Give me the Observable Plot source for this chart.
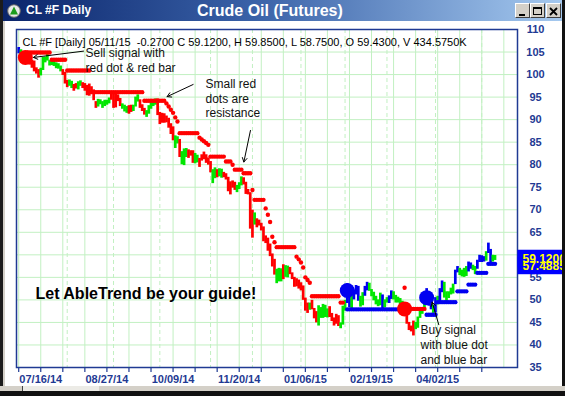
<!DOCTYPE html>
<html><head><meta charset="utf-8">
<script src="https://cdn.jsdelivr.net/npm/d3@7"></script>
<script src="https://cdn.jsdelivr.net/npm/@observablehq/plot@0.6"></script>
<style>
body{margin:0;background:#fff;}
#win{position:relative;width:565px;height:396px;overflow:hidden;background:#fff;font-family:"Liberation Sans",Arial,sans-serif;}
#title{position:absolute;left:0;top:0;width:565px;height:21px;background:linear-gradient(to right,#0a246a 0%,#3a62a8 45%,#a6caf0 100%);}
#icon{position:absolute;left:7px;top:4px;}
#tleft{position:absolute;left:26px;top:0;line-height:21px;color:#fff;font-weight:bold;font-size:12px;}
#tmain{position:absolute;left:197px;top:0;line-height:22px;color:#fff;font-weight:bold;font-size:16px;}
.btn{position:absolute;top:3px;width:13px;height:13px;background:#d4d0c8;border-top:1px solid #fff;border-left:1px solid #fff;border-right:1px solid #404040;border-bottom:1px solid #404040;}
#chart{position:absolute;left:0;top:21px;}
#lstrip{position:absolute;left:0;top:0;width:3px;height:396px;background:#1c1c1c;}
#lstrip2{position:absolute;left:3px;top:21px;width:2px;height:375px;background:#d4d0c8;}
#rstrip{position:absolute;left:562px;top:0;width:3px;height:396px;background:#111;}
#bstrip{position:absolute;left:0;top:386px;width:565px;height:5px;background:#d4d0c8;}
#thumb{position:absolute;left:22px;top:386px;width:76px;height:5px;background:#ecebe6;border-left:1px solid #444;}
#bblack{position:absolute;left:0;top:391px;width:565px;height:5px;background:#111;}
</style></head><body>
<div id="win">
  <div id="chart"></div>
  <div id="title">
    <svg id="icon" width="14" height="14"><circle cx="7" cy="7" r="6.3" fill="#e9e9e9" stroke="#666"/><path d="M7 2.6 L11 10.6 L3 10.6 Z" fill="#1c9c1c"/></svg>
    <div id="tleft">CL #F Daily</div>
    <div id="tmain">Crude Oil (Futures)</div>
    <div class="btn" style="left:515px"><svg width="13" height="13"><rect x="3" y="9" width="6" height="2" fill="#000"/></svg></div>
    <div class="btn" style="left:530px"><svg width="13" height="13"><rect x="2.5" y="2.5" width="8" height="7" fill="none" stroke="#000"/><rect x="2" y="2" width="9" height="2" fill="#000"/></svg></div>
    <div class="btn" style="left:546px"><svg width="13" height="13"><path d="M3 3 L10 10 M10 3 L3 10" stroke="#000" stroke-width="1.8"/></svg></div>
  </div>
  <div id="lstrip"></div><div id="lstrip2"></div><div id="rstrip"></div>
  <div id="bstrip"></div><div id="thumb"></div><div id="bblack"></div>
</div>
<script>
// ---- data: one bar per trading day, 07/01/14 (index 0) to 05/11/15 (index 216)
const highs = [
106.0,105.5,104.8,104.1,104.0,103.6,103.2,103.0,101.5,101.1,
101.4,103.8,103.9,105.0,103.1,103.4,103.2,102.6,102.4,101.9,
101.1,100.5,98.7,98.8,98.5,97.8,98.0,98.4,98.6,98.2,
98.0,97.6,97.9,97.3,96.6,94.0,94.5,94.4,94.0,94.3,
94.3,94.8,96.0,96.0,95.9,95.5,94.7,93.5,93.2,92.9,
93.1,93.2,93.2,95.0,95.5,94.4,93.3,92.5,92.0,93.1,
93.9,94.0,94.6,94.6,91.6,91.4,91.3,90.8,90.3,89.1,
88.4,86.4,86.2,85.6,82.9,83.5,83.6,83.3,83.1,83.1,
82.5,82.1,81.4,82.2,82.8,82.2,81.5,80.7,78.9,79.3,
78.9,79.1,79.0,78.3,78.0,77.2,76.2,76.4,76.1,75.4,
76.0,77.3,77.1,76.1,74.5,73.8,69.9,69.3,68.0,67.7,
67.0,66.2,64.2,63.7,62.4,60.2,59.0,56.8,57.0,56.9,
57.8,57.6,57.5,57.2,56.0,55.0,54.7,54.4,53.8,53.1,
50.4,49.3,49.3,49.9,48.1,47.4,48.7,48.3,49.0,48.8,
48.0,48.5,47.0,46.0,46.8,46.5,44.9,48.6,49.9,53.6,
53.2,51.3,52.2,53.2,53.0,50.8,51.6,53.0,53.9,53.7,
52.3,51.7,50.8,50.0,51.5,51.1,50.0,50.5,50.9,52.0,
51.8,51.0,50.6,50.3,49.7,48.4,47.7,45.0,44.2,45.3,
45.0,46.2,47.8,47.8,49.5,52.5,51.8,49.1,48.8,50.5,
50.8,52.5,54.2,53.9,51.8,51.8,52.6,53.5,56.6,57.4,
57.0,56.6,57.0,57.4,58.4,58.2,57.7,57.4,58.8,59.9,
59.8,59.6,60.7,62.6,61.2,59.9,59.85];
const lows = [
104.6,104.0,103.6,103.1,102.8,102.1,101.4,100.6,100.1,99.2,
99.7,100.9,102.6,103.0,101.9,102.0,101.8,101.3,101.2,100.6,
99.8,97.9,97.1,97.4,96.9,96.3,96.8,96.6,97.4,96.9,
96.3,95.3,95.2,95.9,94.2,92.5,92.8,93.3,92.5,92.9,
93.2,93.5,94.3,92.5,92.6,94.0,92.9,92.3,91.7,91.4,
91.2,91.6,91.8,92.8,93.9,92.5,91.8,91.0,90.5,91.2,
92.3,92.9,93.2,90.9,88.9,89.2,89.2,89.3,88.1,86.7,
85.3,83.6,84.6,81.6,80.0,79.8,81.6,81.4,81.9,80.3,
80.2,80.4,79.4,80.8,81.1,80.3,79.9,78.2,75.8,76.9,
77.1,77.3,77.0,77.1,76.6,74.0,73.3,74.8,74.3,73.8,
74.5,75.3,75.5,73.4,73.3,65.7,63.7,66.6,66.0,66.4,
65.3,62.9,62.5,60.8,59.6,57.3,55.5,53.6,54.0,54.0,
54.5,55.0,54.9,55.6,54.5,52.8,52.9,52.4,52.0,49.9,
47.5,47.0,47.7,47.8,45.8,44.9,44.2,45.9,45.9,46.1,
46.0,46.1,45.2,44.2,44.6,44.1,43.6,44.4,47.5,49.2,
48.3,47.9,50.0,51.1,49.7,48.4,48.7,50.8,52.0,51.9,
50.7,49.8,48.9,48.5,48.7,47.9,48.2,49.3,49.2,50.1,
50.0,49.3,49.3,47.8,47.9,46.7,44.6,43.2,42.9,42.0,
43.4,43.7,45.9,46.8,47.6,49.2,48.6,47.8,47.0,47.1,
48.9,49.0,51.6,50.4,49.6,50.3,51.1,51.3,53.4,56.0,
55.4,55.1,55.0,55.2,56.2,56.8,56.5,55.6,56.8,58.3,
58.3,58.4,58.6,60.3,58.3,58.4,58.75];
// bar colour runs: R = down trend, G = neutral, B = up trend
const trendRuns = [["B",1],["G",2],["R",7],["G",10],["R",3],["G",2],["R",2],["G",2],["R",7],["G",6],
["R",5],["G",3],["R",2],["G",3],["R",3],["G",5],["R",8],["G",2],["R",1],["G",3],["R",3],["G",2],
["R",6],["G",2],["R",1],["G",2],["R",6],["G",3],["R",5],["G",1],["R",9],["G",3],["R",1],["G",2],
["R",9],["G",1],["R",3],["G",5],["R",5],["G",3],["B",2],["G",1],["B",3],["G",2],["B",2],["G",6],
["B",1],["G",2],["B",2],["G",5],["R",5],["G",5],["B",3],["G",1],["B",1],["G",1],["B",2],["G",5],
["B",2],["G",4],["B",2],["G",2],["B",4],["G",1],["B",2],["G",2]];
// small red resistance dots: [first bar, last bar, level]
const resistanceRuns = [[4,14,104.9],[15,21,103.3],[22,32,100.9],[33,56,96.1],[57,66,94.2],[67,67,93.6],
[68,68,92.9],[69,69,92.2],[70,70,91.5],[71,71,90.5],[72,72,89.6],[73,81,87.0],[82,82,86.0],[83,83,85.6],
[84,84,85.2],[85,85,84.8],[86,86,84.4],[87,93,81.8],[94,96,80.7],[97,97,80.0],[98,101,78.9],[102,105,78.1],
[106,106,74.4],[107,111,72.2],[112,112,70.3],[113,113,68.9],[114,114,67.3],[115,115,64.0],[116,116,62.8],
[117,125,61.7],[126,126,59.6],[127,127,59.0],[128,128,58.3],[129,129,57.2],[130,130,55.0],[131,131,54.4],
[132,132,53.8],[133,145,50.8],[146,147,49.4],[175,175,52.7],[176,184,48.0]];
// small blue support dots
const supportRuns = [[149,174,47.9],[185,189,46.7],[190,198,49.5],[199,203,51.9],[204,207,53.4],[208,212,56.0],[213,216,58.0]];
// big signal dots
const signalIdx = [3,149,175,185];
const signalVal = [103.8,52.1,48.0,50.5];
const signalType = ["R","B","R","B"];
// axes (the 60 label sits under the price tags, so it is not printed)
const xTickIdx = [0,10,20,30,40,50,60,70,80,90,100,110,120,130,140,150,160,170,180,190,200,210];
const xGridIdx = [0,10,20,30,40,50,60,70,80,90,100,110,120,130,140,150,160,170,180,190,200,210,220];
const monthStartIdx = [22,43,64,87,106,128,148,167,189,210];
const xLabelIdx = [10,40,70,100,130,160,190];
const xLabels = ["07/16/14","08/27/14","10/09/14","11/20/14","01/06/15","02/19/15","04/02/15"];
const yTicks = [35,40,45,50,55,65,70,75,80,85,90,95,100,105,110];
const yGrid = [40,45,50,55,60,65,70,75,80,85,90,95,100,105];
const priceTagLabels = ["59.1200","57.4885"];
const priceTagValues = [59.12,57.4885];
const headerText = "CL #F [Daily] 05/11/15  -0.2700 C 59.1200, H 59.8500, L 58.7500, O 59.4300, V 434.5750K";
const noteTexts = ["Sell signal with","red dot & red bar","Small red","dots are","resistance","Buy signal","with blue dot","and blue bar"];
const noteX = [30.3,30.3,84.7,84.7,84.7,182.2,182.2,182.2];
const noteY = [104.7,101.4,97.8,94.47,91.36,43.2,39.88,36.55];
const guideText = "Let AbleTrend be your guide!";
const guideX = 7.6, guideY = 51.4;
const arrowFrom = [[29.4,105.2],[79.1,97.8],[105.1,87.6],[190.5,44.5]];
const arrowTo = [[6.7,103.8],[67.3,95.1],[102.1,80.6],[187.5,49.5]];

// ---- build tables
const colorOf = {R:"#ff0000", G:"#00e600", B:"#0000f0"};
const trend = trendRuns.flatMap(([t,n]) => Array(n).fill(t));
const bars = highs.map((h,i) => ({i, high:h, low:lows[i], t:trend[i] || "G"}));
const expand = (runs,t) => runs.flatMap(([a,b,v]) => d3.range(a,b+1).map(i => ({i, v, t})));
const stops = [...expand(resistanceRuns,"R"), ...expand(supportRuns,"B")];
const signals = signalIdx.map((i,k) => ({i, v:signalVal[k], t:signalType[k]}));
const notes = noteTexts.map((s,k) => ({s, x:noteX[k], y:noteY[k]}));
const arrows = arrowFrom.map((f,k) => ({x1:f[0], y1:f[1], x2:arrowTo[k][0], y2:arrowTo[k][1]}));
const tags = priceTagLabels.map((l,k) => ({l, v:priceTagValues[k]}));

const navy = "#1f3a93";
const grid = "#c2f0c2";
const chart = Plot.plot({
  width:565, height:375, marginLeft:16, marginRight:48, marginTop:8, marginBottom:29,
  x:{domain:[-1,226.2], axis:null},
  y:{domain:[35,110], axis:null},
  style:{fontFamily:'"Liberation Sans", Arial, sans-serif', fontSize:"11px", background:"transparent", overflow:"visible", color:navy},
  marks:[
    Plot.ruleY(yGrid, {stroke:grid, strokeWidth:1}),
    Plot.ruleX(xGridIdx, {stroke:grid, strokeWidth:1}),
    Plot.ruleX(monthStartIdx, {stroke:grid, strokeWidth:1, strokeDasharray:"4,3"}),
    Plot.ruleX(bars, {x:"i", y1:"low", y2:"high", stroke:d => colorOf[d.t], strokeWidth:2.7}),
    Plot.dot(stops, {x:"i", y:"v", r:2.2, fill:d => colorOf[d.t], stroke:null}),
    Plot.dot(signals, {x:"i", y:"v", r:7.5, fill:d => colorOf[d.t], stroke:null}),
    Plot.text([headerText], {frameAnchor:"top-left", dx:6, dy:12.5, lineAnchor:"middle", textAnchor:"start", fontSize:11, fill:"#000"}),
    Plot.text(notes, {x:"x", y:"y", text:"s", textAnchor:"start", lineAnchor:"middle", fontSize:12, fill:"#111"}),
    Plot.text([guideText], {x:guideX, y:guideY, textAnchor:"start", lineAnchor:"middle", fontSize:16, fontWeight:"bold", fill:"#000"}),
    Plot.arrow(arrows, {x1:"x1", y1:"y1", x2:"x2", y2:"y2", stroke:"#000", strokeWidth:1, headLength:7}),
    Plot.axisX({ticks:xTickIdx, tickSize:5, tickFormat:() => "", color:navy, strokeWidth:1.2}),
    Plot.axisX({ticks:xLabelIdx, tickSize:0, tickPadding:8, tickFormat:i => xLabels[xLabelIdx.indexOf(i)], color:navy, fontWeight:"bold", fontSize:11}),
    Plot.axisY({anchor:"right", ticks:yTicks, tickSize:0, tickPadding:18, textAnchor:"middle", tickFormat:d => String(d), color:navy, fontWeight:"bold", fontSize:11}),
    Plot.frame({stroke:navy, strokeWidth:1.5}),
    Plot.rect(tags, {x1:226.4, x2:250, y1:d => d.v - 1.9, y2:d => d.v + 1.9, fill:"#0000ff"}),
    Plot.text(tags, {y:"v", text:"l", frameAnchor:"right", dx:5, textAnchor:"start", lineAnchor:"middle", fill:"#ffff00", fontWeight:"bold", fontSize:12})
  ]
});
document.getElementById("chart").appendChild(chart);
</script>
</body></html>
